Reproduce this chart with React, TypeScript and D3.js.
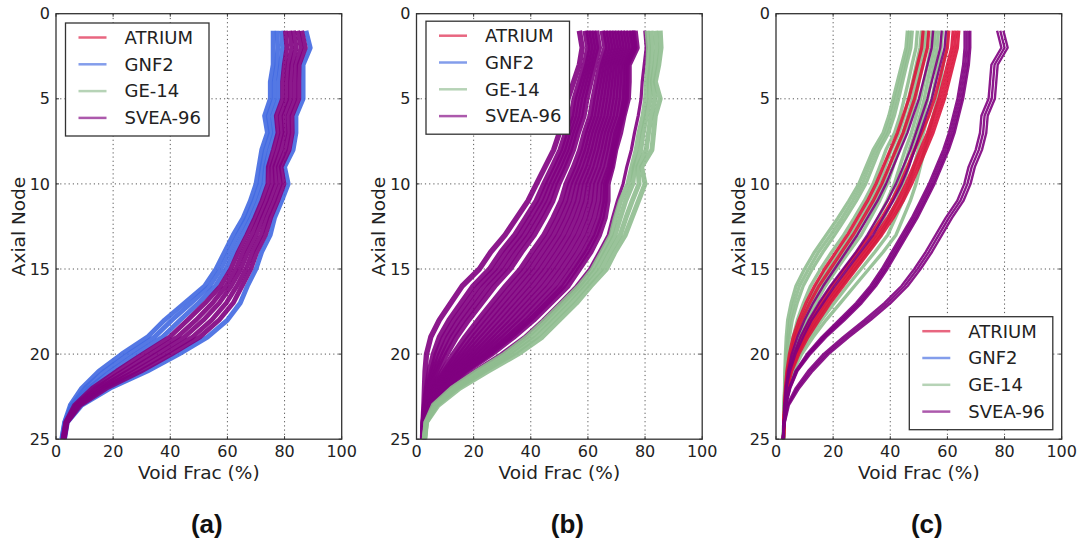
import React from "react";
import * as d3 from "d3";

// ---------- data ----------
const axialNodes = [1, 2, 3, 4, 5, 6, 7, 8, 9, 10, 11, 12, 13, 14, 15, 16, 17, 18, 19, 20, 21, 22, 23, 24, 25];
const xTicks = [0, 20, 40, 60, 80, 100];
const yTicks = [0, 5, 10, 15, 20, 25];
const seriesNames = ["ATRIUM", "GNF2", "GE-14", "SVEA-96"];
const panelLabels = ["(a)", "(b)", "(c)"];

// panel (a)
const aGNF2 = [
  [76, 76, 76, 75, 75, 73, 74, 72, 71, 70, 68, 65.5, 62, 59, 56, 52, 45, 38, 32, 23, 15, 9, 5, 3, 2],
  [77.4, 77.6, 77.3, 76.4, 76.4, 74.3, 75.2, 73.3, 72.1, 71.4, 69.3, 66.8, 63.6, 60.6, 57.7, 53.8, 47.3, 40.6, 34.5, 25.4, 17, 10.2, 5.5, 3.1, 2.1],
  [78.9, 79.3, 78.6, 77.9, 77.9, 75.8, 76.5, 74.8, 73.3, 72.8, 70.8, 68.3, 65.3, 62.3, 59.5, 55.8, 49.9, 43.5, 37.3, 28, 19.3, 11.5, 6, 3.3, 2.3],
  [87.5, 89, 86.5, 86.5, 86.5, 84, 84, 83, 80, 81.3, 79, 76.5, 75, 72, 70, 67, 64.5, 60, 53, 43, 32, 19, 9, 4, 3],
];
const aSVEA = [
  [80.3, 80.8, 79.9, 79.3, 79.3, 77.1, 77.7, 76.1, 74.3, 74.2, 72.1, 69.6, 66.8, 63.8, 61.2, 57.6, 52.2, 46.1, 39.8, 30.4, 21.3, 12.7, 6.5, 3.4, 2.4],
  [81.8, 82.5, 81.3, 80.8, 80.8, 78.5, 79, 77.5, 75.5, 75.7, 73.5, 71, 68.5, 65.5, 63, 59.5, 54.8, 49, 42.5, 33, 23.5, 14, 7, 3.5, 2.5],
  [83.1, 84.1, 82.5, 82.1, 82.1, 79.8, 80.2, 78.8, 76.6, 77, 74.8, 72.3, 70.1, 67.1, 64.7, 61.3, 57.1, 51.6, 45, 35.4, 25.5, 15.2, 7.5, 3.6, 2.6],
  [84.6, 85.8, 83.9, 83.6, 83.6, 81.3, 81.5, 80.3, 77.8, 78.5, 76.3, 73.8, 71.8, 68.8, 66.5, 63.3, 59.6, 54.5, 47.8, 38, 27.8, 16.5, 8, 3.8, 2.8],
  [86, 87.3, 85.1, 85, 85, 82.6, 82.7, 81.6, 78.8, 79.8, 77.6, 75.1, 73.3, 70.3, 68.2, 65.1, 62, 57.1, 50.3, 40.4, 29.8, 17.7, 8.5, 3.9, 2.9],
];

// panel (b)
const bSVEA = [
  [57, 58, 57, 55, 53, 52, 50, 48, 45, 42, 39, 35, 31, 26, 22, 16, 12, 8, 5, 3.5, 3, 2.8, 2.6, 2.3, 2.1],
  [59, 60, 58.8, 57, 55.2, 54.2, 52.2, 50.3, 47.5, 44.6, 41.9, 38.2, 34.4, 29.6, 25.6, 19.8, 15.6, 11.4, 8, 5.9, 4.5, 3.5, 2.8, 2.4, 2.2],
  [60, 61, 59.7, 58, 56.3, 55.3, 53.3, 51.5, 48.8, 45.9, 43.4, 39.8, 36.1, 31.4, 27.4, 21.7, 17.4, 13.1, 9.5, 7, 5.3, 3.9, 3, 2.4, 2.2],
  [61, 62, 60.6, 59, 57.4, 56.4, 54.4, 52.6, 50, 47.2, 44.8, 41.4, 37.8, 33.2, 29.2, 23.6, 19.2, 14.8, 11, 8.2, 6, 4.2, 3.1, 2.4, 2.2],
  [62, 63, 61.5, 60, 58.5, 57.5, 55.5, 53.8, 51.3, 48.5, 46.3, 43, 39.5, 35, 31, 25.5, 21, 16.5, 12.5, 9.4, 6.8, 4.6, 3.2, 2.5, 2.3],
  [63, 64, 62.4, 61, 59.6, 58.6, 56.6, 54.9, 52.5, 49.8, 47.7, 44.6, 41.2, 36.8, 32.8, 27.4, 22.8, 18.2, 14, 10.6, 7.5, 4.9, 3.3, 2.5, 2.3],
  [65, 66, 64.2, 63, 61.8, 60.8, 58.8, 57.2, 55, 52.4, 50.6, 47.8, 44.6, 40.4, 36.4, 31.2, 26.4, 21.6, 17, 12.9, 9, 5.6, 3.6, 2.6, 2.3],
  [66, 67, 65.1, 64, 62.9, 61.9, 59.9, 58.4, 56.3, 53.7, 52.1, 49.4, 46.3, 42.2, 38.2, 33.1, 28.2, 23.3, 18.5, 14.1, 9.8, 6, 3.7, 2.7, 2.4],
  [67, 68, 66, 65, 64, 63, 61, 59.5, 57.5, 55, 53.5, 51, 48, 44, 40, 35, 30, 25, 20, 15.3, 10.5, 6.3, 3.8, 2.7, 2.4],
  [68, 69, 66.9, 66, 65.1, 64.1, 62.1, 60.7, 58.8, 56.3, 55, 52.6, 49.7, 45.8, 41.8, 36.9, 31.8, 26.7, 21.5, 16.5, 11.3, 6.7, 3.9, 2.7, 2.4],
  [69, 70, 67.8, 67, 66.2, 65.2, 63.2, 61.8, 60, 57.6, 56.4, 54.2, 51.4, 47.6, 43.6, 38.8, 33.6, 28.4, 23, 17.6, 12, 7, 4, 2.7, 2.4],
  [70, 71, 68.7, 68, 67.3, 66.3, 64.3, 63, 61.3, 58.9, 57.9, 55.8, 53.1, 49.4, 45.4, 40.7, 35.4, 30.1, 24.5, 18.8, 12.8, 7.4, 4.2, 2.8, 2.5],
  [71, 72, 69.6, 69, 68.4, 67.4, 65.4, 64.1, 62.5, 60.2, 59.3, 57.4, 54.8, 51.2, 47.2, 42.6, 37.2, 31.8, 26, 20, 13.5, 7.7, 4.3, 2.8, 2.5],
  [72, 73, 70.5, 70, 69.5, 68.5, 66.5, 65.3, 63.8, 61.5, 60.8, 59, 56.5, 53, 49, 44.5, 39, 33.5, 27.5, 21.2, 14.3, 8.1, 4.4, 2.9, 2.5],
  [73, 74, 71.4, 71, 70.6, 69.6, 67.6, 66.4, 65, 62.8, 62.2, 60.6, 58.2, 54.8, 50.8, 46.4, 40.8, 35.2, 29, 22.3, 15, 8.4, 4.5, 2.9, 2.5],
  [74, 75, 72.3, 72, 71.7, 70.7, 68.7, 67.6, 66.3, 64.1, 63.7, 62.2, 59.9, 56.6, 52.6, 48.3, 42.6, 36.9, 30.5, 23.5, 15.8, 8.8, 4.7, 3, 2.6],
  [75, 76, 73.2, 73, 72.8, 71.8, 69.8, 68.7, 67.5, 65.4, 65.1, 63.8, 61.6, 58.4, 54.4, 50.2, 44.4, 38.6, 32, 24.7, 16.5, 9.1, 4.8, 3, 2.6],
  [75.7, 76.5, 73.7, 73.6, 73.4, 72.1, 70.5, 69.2, 68.1, 66.2, 66, 64.9, 62.8, 59.6, 55.7, 51.5, 45.7, 39.7, 33, 25.4, 17, 9.4, 4.9, 3, 2.6],
  [76.5, 77.2, 74.4, 74.4, 74.1, 72.6, 71.4, 69.7, 68.6, 67, 67, 66, 64, 61, 57, 53, 47, 41, 34, 26.3, 17.6, 9.8, 5, 3, 2.6],
];
const bSVEAouter = [
  [79.9, 80.4, 79.7, 79, 78.6, 77.6, 76.3, 75.2, 73.6, 72.3, 70.3, 68.6, 67.1, 63.9, 60.6, 55.9, 50.1, 44.1, 37.6, 29.5, 20.1, 11.4, 5.7, 3.1, 2.6],
];
const bGE14 = [
  [80.7, 81.2, 81, 80.5, 80.2, 79.3, 77.9, 76.9, 75.4, 74, 71.4, 69.6, 68.1, 64.9, 61.6, 56.9, 51, 45, 38.6, 30.8, 21.2, 12.4, 5.9, 3.3, 2.7],
  [82.1, 82.5, 82.1, 81.4, 81.8, 80.5, 79.3, 78.5, 76.3, 75.7, 73.2, 71.3, 69.5, 66.2, 63, 58, 52.4, 46.5, 40.2, 32.2, 22.4, 13.3, 6.5, 3.4, 2.8],
  [83.7, 84.1, 83.5, 82.5, 83.5, 82.1, 81.2, 80.4, 77.5, 77.9, 75.5, 73.3, 71.3, 67.8, 64.7, 59.5, 54.2, 48.2, 42.1, 33.8, 23.7, 14.2, 7, 3.4, 2.8],
  [85.3, 85.6, 84.8, 83.6, 85.3, 83.6, 83, 82.4, 78.8, 80, 77.7, 75.4, 73.1, 69.5, 66.5, 61, 56, 50, 44, 35.5, 25.1, 15.2, 7.6, 3.5, 2.9],
];

// panel (c)
const cGE14 = [
  [46, 45.5, 44, 42.5, 41, 39.5, 37.5, 34, 31.5, 29, 25.5, 21.7, 17.6, 13.5, 10, 7, 5.3, 4.1, 3.6, 3.3, 3.1, 3, 2.8, 2.7, 2.6],
  [46.8, 46.3, 44.9, 43.4, 41.9, 40.4, 38.5, 35.1, 32.6, 30.2, 26.8, 23.1, 19.1, 14.9, 11.4, 8.2, 6.3, 4.9, 4.2, 3.6, 3.3, 3.1, 2.8, 2.7, 2.6],
  [47.7, 47.2, 45.7, 44.3, 42.9, 41.4, 39.4, 36.2, 33.8, 31.4, 28.1, 24.4, 20.5, 16.4, 12.7, 9.5, 7.4, 5.7, 4.7, 4, 3.4, 3.1, 2.9, 2.7, 2.6],
  [49.5, 49, 47.6, 46.3, 44.9, 43.4, 41.5, 38.5, 36.3, 34, 30.9, 27.4, 23.7, 19.5, 15.6, 12.1, 9.6, 7.5, 6, 4.7, 3.8, 3.3, 2.9, 2.7, 2.6],
  [50.9, 50.4, 49.1, 47.8, 46.4, 44.9, 43.1, 40.3, 38.2, 36, 33, 29.7, 26.1, 21.9, 17.9, 14.2, 11.3, 8.8, 6.9, 5.3, 4.1, 3.4, 3, 2.8, 2.6],
  [52, 51.5, 50.2, 49, 47.7, 46.2, 44.4, 41.7, 39.7, 37.6, 34.7, 31.5, 28.1, 23.8, 19.7, 15.8, 12.7, 9.9, 7.6, 5.8, 4.3, 3.5, 3, 2.8, 2.6],
  [53, 52.5, 51.3, 50, 48.8, 47.3, 45.5, 43, 41, 39, 36.3, 33.1, 29.8, 25.5, 21.3, 17.3, 13.9, 10.8, 8.3, 6.2, 4.6, 3.6, 3.1, 2.8, 2.6],
  [54.7, 54.2, 53, 51.8, 50.6, 49.1, 47.4, 45.2, 43.3, 41.4, 38.8, 35.8, 32.7, 28.4, 24, 19.7, 16, 12.4, 9.4, 6.8, 4.9, 3.7, 3.1, 2.8, 2.6],
  [55.8, 55.3, 54.2, 53, 51.9, 50.4, 48.7, 46.6, 44.8, 43, 40.6, 37.7, 34.7, 30.3, 25.8, 21.4, 17.3, 13.5, 10.2, 7.3, 5.1, 3.8, 3.2, 2.8, 2.6],
  [56.9, 56.4, 55.3, 54.2, 53.1, 51.6, 50, 48, 46.3, 44.6, 42.3, 39.5, 36.6, 32.2, 27.6, 23, 18.7, 14.6, 10.9, 7.7, 5.4, 3.9, 3.2, 2.9, 2.6],
  [58.3, 57.8, 56.8, 55.7, 54.6, 53.1, 51.6, 49.8, 48.2, 46.6, 44.4, 41.8, 39.1, 34.6, 29.8, 25, 20.4, 15.9, 11.9, 8.3, 5.7, 4.1, 3.2, 2.9, 2.6],
  [60, 59.5, 58.5, 57.5, 56.5, 55, 53.5, 52, 50.5, 49, 47, 44.5, 42, 37.5, 32.5, 27.5, 22.5, 17.5, 13, 9, 6, 4.2, 3.3, 2.9, 2.6],
];
const cATRIUM = [
  [51.5, 51, 49.5, 48, 46.5, 44.5, 42.5, 40, 37.5, 35, 32, 28.5, 25, 21, 17, 13.5, 10.5, 8, 6, 4.7, 3.8, 3.3, 3, 2.8, 2.6],
  [53.5, 53, 51.5, 50, 48.5, 46.5, 44.5, 42, 39.5, 37, 34, 30.5, 27, 23, 19, 15, 11.8, 9, 6.8, 5.2, 4.1, 3.4, 3, 2.8, 2.6],
  [60.5, 60, 58.5, 57, 55.5, 53.5, 51, 48.5, 46, 43.5, 40.5, 37, 33, 28.5, 24, 19.5, 15.5, 12, 9, 6.5, 4.8, 3.7, 3.1, 2.8, 2.6],
  [62, 61.5, 60, 58.5, 57, 55, 53, 50.5, 48, 45.5, 42.5, 39, 35, 30.5, 26, 21.5, 17, 13, 9.8, 7, 5, 3.8, 3.1, 2.8, 2.6],
  [63, 62.5, 61, 59.5, 58, 56, 54, 51.5, 49, 46.5, 43.5, 40, 36, 31.5, 27, 22.5, 18, 14, 10.5, 7.5, 5.2, 3.9, 3.2, 2.8, 2.6],
  [64, 63.5, 62, 60.5, 59, 57, 55, 52.5, 50, 47.5, 44.5, 41, 37, 32.5, 28, 23.5, 19, 15, 11.2, 8, 5.5, 4, 3.2, 2.8, 2.6],
];
const cSVEA = [
  [55, 54.5, 53, 51.5, 50, 48, 46, 43.5, 41, 38.5, 35.5, 32, 28.5, 24.5, 20.5, 16.5, 13, 10, 7.5, 5.5, 4.2, 3.4, 3, 2.8, 2.6],
  [58, 57.5, 56, 54.5, 53, 51, 49, 47, 44.5, 42, 39, 35.5, 32, 28, 23.5, 19, 15, 11.5, 8.5, 6.2, 4.5, 3.6, 3.1, 2.8, 2.6],
  [59.5, 59, 57.5, 56, 54.5, 52.5, 50.5, 48.5, 46.5, 44, 41, 37.5, 34, 29.5, 25, 20.5, 16.5, 12.5, 9.5, 6.8, 4.9, 3.7, 3.1, 2.8, 2.6],
  [66, 66, 65.5, 64.5, 63.5, 62, 60.5, 58.5, 56, 53.5, 50.5, 47.5, 44, 40.5, 37, 33, 28, 22, 16, 10.8, 6.8, 4.6, 3.3, 2.7, 2.4],
  [66.7, 66.7, 66.2, 65.2, 64.2, 62.7, 61.2, 59.2, 56.7, 54.2, 51.2, 48.2, 44.7, 41.2, 37.7, 33.7, 28.7, 22.7, 16.5, 11.2, 7, 4.7, 3.4, 2.7, 2.4],
  [67.4, 67.4, 66.9, 65.9, 64.9, 63.4, 61.9, 59.9, 57.4, 54.9, 51.9, 48.9, 45.4, 41.9, 38.4, 34.4, 29.4, 23.4, 17, 11.6, 7.3, 4.9, 3.4, 2.8, 2.4],
  [68, 68, 67.5, 66.5, 65.5, 64, 62.5, 60.5, 58, 55.5, 52.5, 49.5, 46, 42.5, 39, 35, 30, 24, 17.5, 12, 7.5, 5, 3.5, 2.8, 2.4],
  [77.4, 78.9, 75.4, 74.9, 74.4, 71.9, 71.4, 69.9, 67.4, 65.9, 63.4, 59.4, 55.9, 52.4, 48.4, 43.9, 37.9, 30.9, 23.5, 16.6, 11.2, 6.9, 3.9, 2.9, 2.4],
  [78.5, 80, 76.5, 76, 75.5, 73, 72.5, 71, 68.5, 67, 64.5, 60.5, 57, 53.5, 49.5, 45, 39, 32, 24.5, 17.5, 12, 7.5, 4.2, 3, 2.4],
  [79.6, 81.1, 77.6, 77.1, 76.6, 74.1, 73.6, 72.1, 69.6, 68.1, 65.6, 61.6, 58.1, 54.6, 50.6, 46.1, 40.1, 33.1, 25.5, 18.4, 12.8, 8.1, 4.5, 3.1, 2.4],
];

// ---------- styles ----------
const colors: Record<string, string> = {
  "ATRIUM": "#DC143C",
  "GNF2": "#4169E1",
  "GE-14": "#8FBC8F",
  "SVEA-96": "#800080",
};

type Group = { name: string; curves: number[][]; width: number };
type Panel = { left: number; groups: Group[]; legend: { dx: number; dy: number } };

const W = 1077;
const H = 544;
const TOP = 13.7;
const PW = 285.7;
const PH = 425.5;

const panels: Panel[] = [
  {
    left: 56,
    groups: [
      { name: "GNF2", curves: aGNF2, width: 4.8 },
      { name: "SVEA-96", curves: aSVEA, width: 4.8 },
    ],
    legend: { dx: 9.5, dy: 9.3 },
  },
  {
    left: 416.5,
    groups: [
      { name: "SVEA-96", curves: bSVEA, width: 5.4 },
      { name: "SVEA-96", curves: bSVEAouter, width: 3.2 },
      { name: "GE-14", curves: bGE14, width: 5 },
    ],
    legend: { dx: 9.5, dy: 7.5 },
  },
  {
    left: 776,
    groups: [
      { name: "GE-14", curves: cGE14, width: 3.4 },
      { name: "ATRIUM", curves: cATRIUM, width: 3.2 },
      { name: "SVEA-96", curves: cSVEA, width: 2.4 },
    ],
    legend: { dx: 133.3, dy: 303 },
  },
];

const FONT = "'DejaVu Sans', sans-serif";

function PanelView({ p, idx }: { p: Panel; idx: number }) {
  const x = d3.scaleLinear().domain([0, 100]).range([0, PW]);
  const y = d3.scaleLinear().domain([0, 25]).range([0, PH]);
  const line = d3
    .line<number>()
    .x((d) => x(d))
    .y((_d, i) => y(axialNodes[i]));
  const clipId = `clip-${idx}`;
  const lgW = 143.5;
  const lgH = 113;
  return (
    <g transform={`translate(${p.left},${TOP})`}>
      <defs>
        <clipPath id={clipId}>
          <rect x={0} y={0} width={PW} height={PH} />
        </clipPath>
      </defs>
      <rect x={0} y={0} width={PW} height={PH} fill="#fff" />
      {/* grid */}
      <g stroke="#444" strokeWidth={0.9} strokeDasharray="1.2,3">
        {xTicks.slice(1, -1).map((t) => (
          <line key={`gx${t}`} x1={x(t)} x2={x(t)} y1={0} y2={PH} />
        ))}
        {yTicks.slice(1, -1).map((t) => (
          <line key={`gy${t}`} x1={0} x2={PW} y1={y(t)} y2={y(t)} />
        ))}
      </g>
      {/* curves */}
      <g clipPath={`url(#${clipId})`} fill="none" strokeLinejoin="round">
        {p.groups.map((g, gi) =>
          g.curves.map((c, k) => (
            <path
              key={`${gi}-${k}`}
              d={line(c) || ""}
              stroke={colors[g.name]}
              strokeWidth={g.width}
              strokeOpacity={0.9}
            />
          ))
        )}
      </g>
      {/* frame */}
      <rect x={0} y={0} width={PW} height={PH} fill="none" stroke="#333" strokeWidth={1.3} />
      {/* ticks */}
      {xTicks.map((t) => (
        <g key={`tx${t}`}>
          <line x1={x(t)} x2={x(t)} y1={PH} y2={PH - 3} stroke="#333" />
          <line x1={x(t)} x2={x(t)} y1={0} y2={3} stroke="#333" />
          <text x={x(t)} y={PH + 18} textAnchor="middle" fontSize={16} fontFamily={FONT} fill="#222">
            {t}
          </text>
        </g>
      ))}
      {yTicks.map((t) => (
        <g key={`ty${t}`}>
          <line x1={0} x2={3} y1={y(t)} y2={y(t)} stroke="#333" />
          <line x1={PW} x2={PW - 3} y1={y(t)} y2={y(t)} stroke="#333" />
          <text x={-6} y={y(t) + 5.7} textAnchor="end" fontSize={16} fontFamily={FONT} fill="#222">
            {t}
          </text>
        </g>
      ))}
      {/* axis labels */}
      <text x={PW / 2} y={PH + 39.5} textAnchor="middle" fontSize={18.5} fontFamily={FONT} fill="#222">
        Void Frac (%)
      </text>
      <text
        transform={`translate(${-31.5},${PH / 2}) rotate(-90)`}
        textAnchor="middle"
        fontSize={18.5}
        fontFamily={FONT}
        fill="#222"
      >
        Axial Node
      </text>
      {/* legend */}
      <g transform={`translate(${p.legend.dx},${p.legend.dy})`}>
        <rect x={0} y={0} width={lgW} height={lgH} fill="#fff" stroke="#333" strokeWidth={1.3} />
        {seriesNames.map((s, i) => (
          <g key={s} transform={`translate(0,${14.5 + i * 26.8})`}>
            <line x1={13} x2={41} y1={0} y2={0} stroke={colors[s]} strokeWidth={2.5} strokeOpacity={0.65} />
            <text x={59} y={6.3} fontSize={18} fontFamily={FONT} fill="#222">
              {s}
            </text>
          </g>
        ))}
      </g>
      {/* panel label */}
      <text
        x={PW / 2 + 8}
        y={533 - TOP}
        textAnchor="middle"
        fontSize={26}
        fontWeight="bold"
        fontFamily="'Liberation Sans', Arial, sans-serif"
        fill="#111"
      >
        {panelLabels[idx]}
      </text>
    </g>
  );
}

export default function App() {
  return (
    <svg width={W} height={H} style={{ display: "block", position: "absolute", left: 0, top: 0, background: "#fff" }}>
      <rect width={W} height={H} fill="#fff" />
      {panels.map((p, i) => (
        <PanelView key={i} p={p} idx={i} />
      ))}
    </svg>
  );
}
